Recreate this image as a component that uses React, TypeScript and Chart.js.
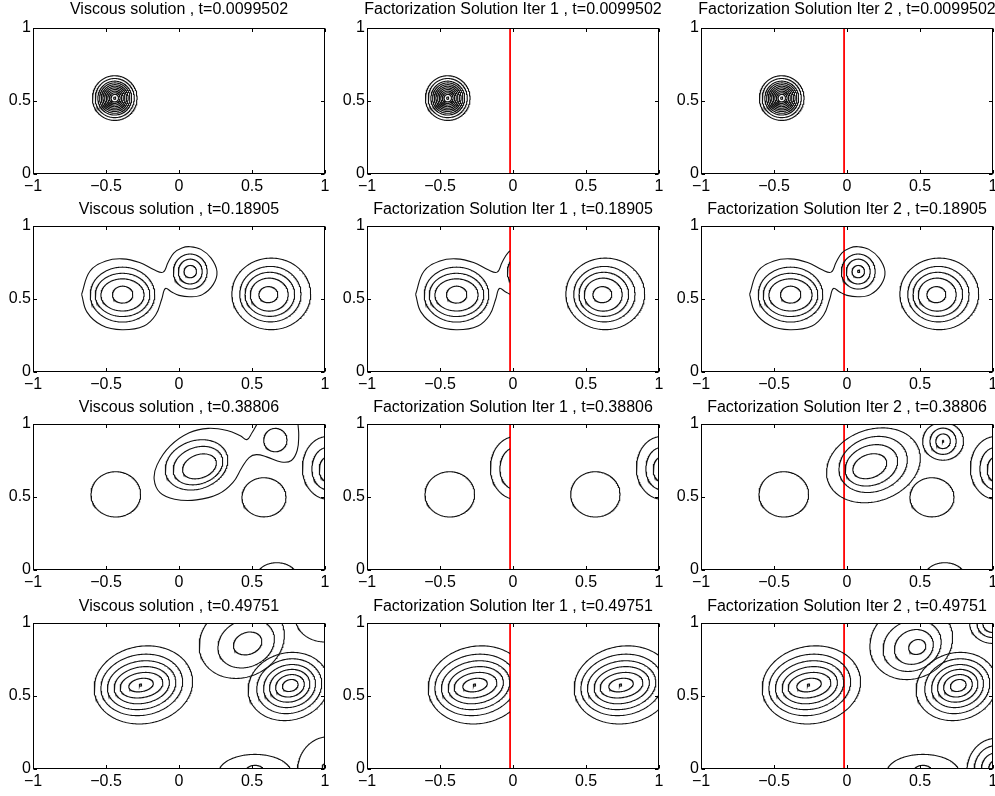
import React, { useEffect, useRef } from 'react';
import { Chart, registerables } from 'chart.js';
Chart.register(...registerables);

const FONT = "'Liberation Sans', Arial, Helvetica, sans-serif";

// ---------- axes ----------
const xTickValues = [-1, -0.5, 0, 0.5, 1];
const xTickLabels = ['\u22121', '\u22120.5', '0', '0.5', '1'];
const yTickValues = [0, 0.5, 1];
const yTickLabels = ['0', '0.5', '1'];

// ---------- titles ----------
const methods = ['Viscous solution', 'Factorization Solution Iter 1', 'Factorization Solution Iter 2'];
const times = ['0.0099502', '0.18905', '0.38806', '0.49751'];
const cutX = -0.02; // red interface line (Iter 1 / Iter 2 panels)

// ---------- contour data ----------
// ellipse contours: [cx, cy, rx, ry, rotationDeg]
// row 1 : concentric circles
const r1Centers = [[-0.44, 0.52], [-0.447, 0.52], [-0.447, 0.52]];
const r1Radii = [0.153, 0.134, 0.116, 0.104, 0.092, 0.081, 0.07, 0.059, 0.048, 0.037, 0.026, 0.008];

// row 2
const r2LeftRings = [
  [-0.386, 0.53, 0.07, 0.058, 0],
  [-0.387, 0.528, 0.148, 0.11, 0],
  [-0.387, 0.528, 0.187, 0.148, 0],
  [-0.387, 0.53, 0.221, 0.188, 0],
];
const r2SmallRings = [
  [0.077, 0.688, 0.043, 0.042, 0],
  [0.077, 0.688, 0.082, 0.085, 0],
  [0.077, 0.688, 0.116, 0.12, 0],
];
const r2SmallDot = [0.08, 0.69, 0.008, 0.008, 0];
const r2RightRings = [
  [0.612, 0.53, 0.065, 0.055, 0],
  [0.618, 0.53, 0.13, 0.113, 0],
  [0.622, 0.532, 0.17, 0.151, 0],
  [0.626, 0.533, 0.21, 0.19, 0],
  [0.632, 0.535, 0.27, 0.245, 0],
];
// outer contour enclosing the left blob and the small blob
const r2PeanutX = [-0.667, -0.61, -0.5, -0.39, -0.27, -0.17, -0.109, -0.075, -0.036, 0.02, 0.077, 0.15, 0.22, 0.26, 0.235, 0.16, 0.077, 0.0, -0.05, -0.093, -0.118, -0.16, -0.24, -0.39, -0.53, -0.63, -0.667];
const r2PeanutY = [0.532, 0.69, 0.76, 0.775, 0.75, 0.7, 0.684, 0.75, 0.815, 0.85, 0.858, 0.84, 0.78, 0.688, 0.6, 0.53, 0.515, 0.525, 0.548, 0.572, 0.5, 0.39, 0.315, 0.289, 0.32, 0.41, 0.532];

// row 3
const r3LeftCircle = [-0.433, 0.518, 0.17, 0.155, 0];
const r3RightCircleIter1 = [0.564, 0.518, 0.169, 0.155, 0];
const r3MidRings = [
  [0.14, 0.71, 0.12, 0.08, 20],
  [0.13, 0.715, 0.175, 0.125, 20],
  [0.12, 0.72, 0.22, 0.165, 20],
];
const r3MidOuterX = [0.535, 0.5, 0.465, 0.42, 0.33, 0.2, 0.07, -0.06, -0.15, -0.17, -0.13, -0.03, 0.12, 0.27, 0.37, 0.43, 0.48, 0.53, 0.6, 0.7, 0.77, 0.81, 0.82, 0.815];
const r3MidOuterY = [1.0, 0.94, 0.893, 0.92, 0.955, 0.97, 0.94, 0.85, 0.72, 0.62, 0.53, 0.485, 0.48, 0.52, 0.6, 0.7, 0.77, 0.79, 0.775, 0.74, 0.75, 0.82, 0.92, 1.0];
const r3TopSmall = [0.66, 0.89, 0.08, 0.08, 0];
const r3LowCircle = [0.582, 0.498, 0.151, 0.134, 0];
const r3EdgeArcs = [
  [1.02, 0.7, 0.175, 0.215, 0],
  [1.02, 0.695, 0.11, 0.145, 0],
  [1.02, 0.69, 0.06, 0.085, 0],
];
const r3BottomArc = [0.67, -0.05, 0.14, 0.1, 0];
const r3MidRingsIter2 = [
  [0.156, 0.711, 0.12, 0.08, 20],
  [0.167, 0.717, 0.185, 0.135, 20],
  [0.179, 0.723, 0.24, 0.185, 20],
  [0.181, 0.717, 0.33, 0.245, 20],
];
const r3TopRingsIter2 = [
  [0.658, 0.882, 0.006, 0.006, 0],
  [0.658, 0.882, 0.05, 0.05, 0],
  [0.658, 0.882, 0.09, 0.09, 0],
  [0.658, 0.882, 0.14, 0.13, 0],
];

// row 4
const r4LeftRings = [
  [-0.244, 0.576, 0.339, 0.265, 10],
  [-0.255, 0.576, 0.282, 0.208, 10],
  [-0.256, 0.574, 0.236, 0.165, 10],
  [-0.255, 0.574, 0.191, 0.125, 10],
  [-0.257, 0.574, 0.148, 0.085, 10],
  [-0.26, 0.575, 0.085, 0.045, 10],
  [-0.264, 0.575, 0.009, 0.007, 0],
];
const r4RightRings = [
  [0.75, 0.565, 0.28, 0.23, 15],
  [0.755, 0.567, 0.225, 0.185, 15],
  [0.757, 0.568, 0.18, 0.145, 15],
  [0.758, 0.57, 0.14, 0.11, 15],
  [0.76, 0.57, 0.1, 0.075, 15],
  [0.762, 0.572, 0.055, 0.04, 15],
];
const r4UpperRings = [
  [0.43, 0.88, 0.3, 0.25, 25],
  [0.46, 0.86, 0.2, 0.16, 25],
  [0.47, 0.86, 0.1, 0.075, 20],
];
const r4UpperRingsIter2 = [
  [0.44, 0.87, 0.29, 0.25, 25],
  [0.446, 0.845, 0.205, 0.17, 25],
  [0.458, 0.836, 0.137, 0.115, 25],
  [0.481, 0.836, 0.06, 0.05, 20],
];
const r4CornerArcs = [[1.0, 1.03, 0.2, 0.16, 0]];
const r4CornerArcsIter2 = [
  [1.0, 1.0, 0.16, 0.14, 0],
  [1.0, 1.0, 0.11, 0.1, 0],
  [1.0, 1.0, 0.07, 0.065, 0],
];
const r4BottomMid = [
  [0.52, -0.03, 0.25, 0.13, 0],
  [0.52, -0.01, 0.06, 0.035, 0],
];
const r4BottomRight = [
  [1.02, -0.02, 0.21, 0.24, 0],
  [1.0, 0.015, 0.02, 0.02, 0],
];
const r4BottomRightIter2 = [
  [1.02, -0.02, 0.2, 0.23, 0],
  [1.02, -0.01, 0.15, 0.17, 0],
  [1.02, 0.0, 0.1, 0.11, 0],
  [1.02, 0.0, 0.05, 0.06, 0],
];

// ---------- layout ----------
const plotL = [33, 367, 701];
const plotT = [28, 226, 424, 623];
const PW = 292;
const PH = 146;
const PADL = 33;
const PADT = 28;
const PADB = 24;

// ---------- builders ----------
type Pt = { x: number; y: number };
type Contour = { pts: Pt[]; smooth: boolean; xMin?: number; xMax?: number };

function ellipsePts(e: number[]): Pt[] {
  const [cx, cy, rx, ry, rot] = e;
  const th = (rot * Math.PI) / 180;
  const n = 200;
  const out: Pt[] = [];
  for (let i = 0; i <= n; i++) {
    const t = (i / n) * 2 * Math.PI;
    const c = Math.cos(t);
    const s = Math.sin(t);
    out.push({
      x: cx + rx * c * Math.cos(th) - ry * s * Math.sin(th),
      y: cy + rx * c * Math.sin(th) + ry * s * Math.cos(th),
    });
  }
  return out;
}
const E = (e: number[], xMin?: number, xMax?: number): Contour => ({ pts: ellipsePts(e), smooth: false, xMin, xMax });
const P = (xs: number[], ys: number[], xMin?: number, xMax?: number): Contour => ({
  pts: xs.map((x, i) => ({ x, y: ys[i] })),
  smooth: true,
  xMin,
  xMax,
});
const shift = (e: number[], dx: number) => [e[0] + dx, e[1], e[2], e[3], e[4]];

function panelContours(row: number, col: number): Contour[] {
  const out: Contour[] = [];
  if (row === 0) {
    const [cx, cy] = r1Centers[col];
    r1Radii.forEach((r) => out.push(E([cx, cy, r, r, 0])));
  } else if (row === 1) {
    r2LeftRings.forEach((e) => out.push(E(e)));
    r2RightRings.forEach((e) => out.push(E(e, col === 1 ? cutX : undefined)));
    if (col === 1) {
      out.push(P(r2PeanutX, r2PeanutY, undefined, cutX));
      out.push(E(r2SmallRings[2], undefined, cutX));
    } else {
      out.push(P(r2PeanutX, r2PeanutY));
      r2SmallRings.forEach((e) => out.push(E(e)));
      if (col === 2) out.push(E(r2SmallDot));
    }
  } else if (row === 2) {
    out.push(E(r3LeftCircle));
    if (col === 1) {
      out.push(E(r3RightCircleIter1));
      r3EdgeArcs.slice(0, 2).forEach((e) => out.push(E(shift(e, -1), undefined, cutX)));
      r3EdgeArcs.forEach((e) => out.push(E(e)));
    } else if (col === 0) {
      r3MidRings.forEach((e) => out.push(E(e)));
      out.push(P(r3MidOuterX, r3MidOuterY));
      out.push(E(r3TopSmall));
      out.push(E(r3LowCircle));
      r3EdgeArcs.forEach((e) => out.push(E(e)));
      out.push(E(r3BottomArc));
    } else {
      r3MidRingsIter2.forEach((e) => out.push(E(e)));
      r3TopRingsIter2.forEach((e) => out.push(E(e)));
      out.push(E(r3LowCircle));
      r3EdgeArcs.forEach((e) => out.push(E(e)));
      out.push(E(r3BottomArc));
    }
  } else {
    if (col === 1) {
      r4LeftRings.forEach((e) => out.push(E(e, undefined, cutX)));
      r4LeftRings.forEach((e) => out.push(E(shift(e, 1), cutX)));
    } else {
      r4LeftRings.forEach((e) => out.push(E(e)));
      r4RightRings.forEach((e) => out.push(E(e)));
      r4BottomMid.forEach((e) => out.push(E(e)));
      if (col === 0) {
        r4UpperRings.forEach((e) => out.push(E(e)));
        r4CornerArcs.forEach((e) => out.push(E(e)));
        r4BottomRight.forEach((e) => out.push(E(e)));
      } else {
        r4UpperRingsIter2.forEach((e) => out.push(E(e)));
        r4CornerArcsIter2.forEach((e) => out.push(E(e)));
        r4BottomRightIter2.forEach((e) => out.push(E(e)));
      }
    }
  }
  return out;
}

// ---------- plugins ----------
const clipPlugin = {
  id: 'xclip',
  beforeDatasetDraw(chart: any, args: any) {
    const ds = chart.data.datasets[args.index];
    if (ds.xMin === undefined && ds.xMax === undefined) return;
    const a = chart.chartArea;
    const xs = chart.scales.x;
    const l = ds.xMin !== undefined ? xs.getPixelForValue(ds.xMin) : a.left;
    const r = ds.xMax !== undefined ? xs.getPixelForValue(ds.xMax) : a.right;
    chart.ctx.save();
    chart.ctx.beginPath();
    chart.ctx.rect(l, a.top, r - l, a.bottom - a.top);
    chart.ctx.clip();
  },
  afterDatasetDraw(chart: any, args: any) {
    const ds = chart.data.datasets[args.index];
    if (ds.xMin === undefined && ds.xMax === undefined) return;
    chart.ctx.restore();
  },
};

const framePlugin = {
  id: 'frame',
  afterDatasetsDraw(chart: any) {
    const { ctx, chartArea: a, scales } = chart;
    ctx.save();
    ctx.strokeStyle = '#000';
    ctx.lineWidth = 1;
    const L = Math.round(a.left) + 0.5;
    const R = Math.round(a.right) - 0.5;
    const T = Math.round(a.top) + 0.5;
    const B = Math.round(a.bottom) - 0.5;
    ctx.strokeRect(L, T, R - L, B - T);
    const tl = 3.5;
    ctx.beginPath();
    xTickValues.forEach((v) => {
      const px = Math.round(scales.x.getPixelForValue(v)) + 0.5;
      ctx.moveTo(px, B);
      ctx.lineTo(px, B - tl);
      ctx.moveTo(px, T);
      ctx.lineTo(px, T + tl);
    });
    yTickValues.forEach((v) => {
      const py = Math.round(scales.y.getPixelForValue(v)) + 0.5;
      ctx.moveTo(L, py);
      ctx.lineTo(L + tl, py);
      ctx.moveTo(R, py);
      ctx.lineTo(R - tl, py);
    });
    ctx.stroke();
    ctx.restore();
  },
};

// ---------- panel ----------
function Panel({ row, col }: { row: number; col: number }) {
  const ref = useRef<HTMLCanvasElement>(null);
  const CW = PADL + PW + PADL;
  const CH = PADT + PH + PADB;
  useEffect(() => {
    if (!ref.current) return;
    const contours = panelContours(row, col);
    const datasets: any[] = contours.map((c) => ({
      data: c.pts,
      showLine: true,
      pointRadius: 0,
      borderColor: '#111',
      borderWidth: 1.1,
      tension: c.smooth ? 0.4 : 0,
      xMin: c.xMin,
      xMax: c.xMax,
    }));
    if (col > 0) {
      datasets.push({
        data: [{ x: cutX, y: 0 }, { x: cutX, y: 1 }],
        showLine: true,
        pointRadius: 0,
        borderColor: '#ff0000',
        borderWidth: 1.8,
      });
    }
    const font = { family: FONT, size: 16, weight: 'normal' as const };
    const chart = new Chart(ref.current, {
      type: 'scatter',
      data: { datasets },
      options: {
        animation: false,
        responsive: false,
        devicePixelRatio: 1,
        events: [],
        layout: { padding: 0 },
        plugins: {
          legend: { display: false },
          tooltip: { enabled: false },
          title: {
            display: true,
            text: `${methods[col]} , t=${times[row]}`,
            color: '#000',
            font,
            padding: row === 0 ? { top: 0.4, bottom: 8.4 } : { top: 2.4, bottom: 6.4 },
          },
        },
        scales: {
          x: {
            type: 'linear',
            min: -1,
            max: 1,
            grid: { display: false, drawTicks: false },
            border: { display: false },
            afterBuildTicks: (s: any) => {
              s.ticks = xTickValues.map((v) => ({ value: v }));
            },
            afterFit: (s: any) => {
              s.height = PADB;
            },
            ticks: {
              autoSkip: false,
              maxRotation: 0,
              minRotation: 0,
              padding: 3,
              color: '#000',
              font,
              callback: (_v: any, i: number) => xTickLabels[i],
            },
          },
          y: {
            type: 'linear',
            min: 0,
            max: 1,
            grid: { display: false, drawTicks: false },
            border: { display: false },
            afterBuildTicks: (s: any) => {
              s.ticks = yTickValues.map((v) => ({ value: v }));
            },
            afterFit: (s: any) => {
              s.width = PADL;
            },
            ticks: {
              autoSkip: false,
              padding: 2,
              color: '#000',
              font,
              callback: (_v: any, i: number) => yTickLabels[i],
            },
          },
          yRight: {
            type: 'linear',
            position: 'right',
            min: 0,
            max: 1,
            grid: { display: false, drawTicks: false },
            border: { display: false },
            ticks: { display: false },
            afterFit: (s: any) => {
              s.width = PADL;
            },
          },
        },
      },
      plugins: [clipPlugin, framePlugin],
    } as any);
    return () => chart.destroy();
  }, [row, col]);
  return (
    <canvas
      ref={ref}
      width={CW}
      height={CH}
      style={{ position: 'absolute', left: plotL[col] - PADL, top: plotT[row] - PADT, width: CW, height: CH }}
    />
  );
}

export default function App() {
  const cells: JSX.Element[] = [];
  for (let r = 0; r < 4; r++) for (let c = 0; c < 3; c++) cells.push(<Panel key={`${r}-${c}`} row={r} col={c} />);
  return (
    <div style={{ position: 'absolute', left: 0, top: 0, width: 995, height: 796, overflow: 'hidden', background: '#fff' }}>
      {cells}
    </div>
  );
}
